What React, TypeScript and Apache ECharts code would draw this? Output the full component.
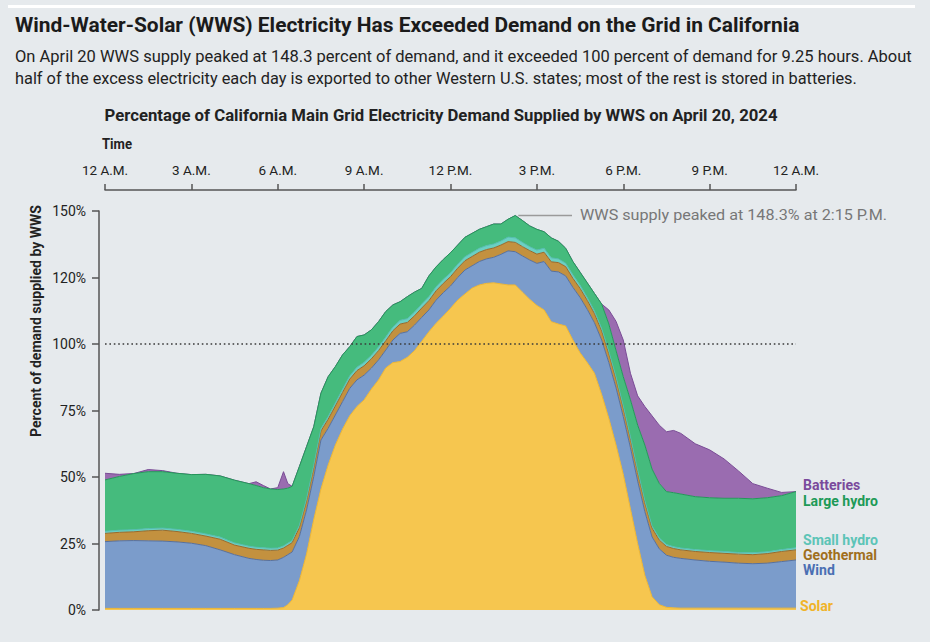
import React, { useEffect, useRef } from 'react';
import * as echarts from 'echarts';

// ---------- DATA (percent of demand) ----------
const hours = [
  0, 0.5, 1, 1.5, 2, 2.5, 3, 3.5, 4, 4.5, 5,
  5.25, 5.5, 5.75, 6, 6.2, 6.35, 6.5,
  6.75, 7, 7.25, 7.5, 7.75, 8, 8.25, 8.5, 8.75, 9, 9.25, 9.5, 9.75,
  10, 10.25, 10.5, 10.75, 11, 11.25, 11.5, 11.75, 12, 12.25, 12.5, 12.75,
  13, 13.25, 13.5, 13.75, 14, 14.25, 14.5, 14.75, 15, 15.25, 15.5, 15.75,
  16, 16.25, 16.5, 16.75, 17, 17.25, 17.5, 17.75, 18, 18.25, 18.5, 18.75,
  19, 19.25, 19.5, 19.75, 20, 20.5, 21, 21.5, 22, 22.5, 23, 23.5, 24,
];

const solar = [
  0.6, 0.6, 0.6, 0.6, 0.6, 0.6, 0.6, 0.6, 0.6, 0.6, 0.6,
  0.6, 0.6, 0.6, 0.7, 0.9, 2.0, 3.8,
  11.0, 21.0, 34.0, 45.5, 54.5, 62.0, 68.0, 73.0, 76.5, 79.0, 83.0, 86.5, 91.0,
  93.0, 93.4, 95.0, 97.5, 101.0, 104.6, 107.8, 110.5, 113.4, 116.5, 118.8, 121.0,
  122.2, 122.8, 123.0, 122.6, 122.2, 122.2, 119.5, 116.8, 114.5, 112.8, 108.4, 107.5,
  106.8, 101.5, 96.7, 93.0, 89.0, 81.0, 72.0, 62.0, 51.0, 38.0, 25.0, 13.0,
  5.0, 2.0, 1.0, 0.8, 0.7, 0.7, 0.7, 0.7, 0.7, 0.7, 0.7, 0.7, 0.7,
];

const wind = [
  25.1, 25.4, 25.5, 25.4, 25.3, 25.0, 24.5, 23.6, 22.0, 20.2, 18.8,
  18.4, 18.1, 18.0, 18.1, 18.9, 18.8, 18.0,
  16.6, 16.6, 16.1, 18.4, 13.8, 11.3, 10.3, 10.3, 10.0, 9.3, 7.9, 7.5, 6.7,
  8.5, 10.6, 9.6, 9.6, 9.0, 8.2, 8.7, 8.8, 8.4, 8.5, 9.0, 8.4,
  8.8, 9.2, 9.6, 11.1, 12.8, 12.5, 13.6, 14.8, 15.8, 18.2, 19.0, 19.6,
  18.8, 19.8, 20.8, 20.0, 19.0, 20.5, 21.0, 21.5, 21.7, 23.0, 23.5, 24.0,
  22.5, 21.0, 19.6, 19.0, 18.7, 18.1, 17.6, 17.3, 16.9, 16.7, 16.9, 17.5, 18.1,
];

const geothermal = [
  3.1, 3.2, 3.3, 3.8, 4.1, 3.9, 3.7, 3.6, 4.0, 3.6, 3.8,
  3.8, 3.9, 3.8, 3.7, 3.5, 3.5, 3.5,
  3.4, 3.4, 3.4, 3.4, 3.4, 3.4, 3.5, 3.5, 3.5, 3.5, 3.5, 3.5, 3.5,
  3.5, 3.5, 3.5, 3.5, 3.5, 3.5, 3.5, 3.5, 3.5, 3.5, 3.5, 3.5,
  3.5, 3.5, 3.5, 3.5, 3.5, 3.5, 3.5, 3.5, 3.5, 3.5, 3.5, 3.5,
  3.5, 3.4, 3.4, 3.4, 3.4, 3.4, 3.3, 3.3, 3.3, 3.3, 3.3, 3.3,
  3.3, 3.3, 3.3, 3.3, 3.2, 3.2, 3.3, 3.3, 3.4, 3.4, 3.6, 3.8, 3.8,
];

const smallHydro = [
  0.8, 0.8, 0.8, 0.8, 0.8, 0.8, 0.8, 0.8, 0.8, 0.8, 0.8,
  0.8, 0.8, 0.8, 0.8, 0.8, 0.8, 0.8,
  0.8, 0.8, 0.9, 0.9, 1.0, 1.1, 1.2, 1.2, 1.3, 1.3, 1.3, 1.4, 1.4,
  1.4, 1.4, 1.4, 1.4, 1.5, 1.5, 1.5, 1.5, 1.5, 1.5, 1.5, 1.5,
  1.5, 1.5, 1.5, 1.5, 1.7, 1.7, 1.6, 1.5, 1.5, 1.5, 1.5, 1.4,
  1.3, 1.3, 1.2, 1.1, 1.0, 0.9, 0.9, 0.8, 0.8, 0.8, 0.8, 0.8,
  0.8, 0.8, 0.7, 0.7, 0.7, 0.7, 0.7, 0.7, 0.6, 0.7, 0.7, 0.7, 0.8,
];

const largeHydro = [
  19.3, 20.2, 21.1, 21.4, 21.2, 21.1, 21.3, 22.4, 23.0, 23.6, 23.5,
  23.2, 22.6, 22.3, 22.0, 21.4, 20.7, 20.4,
  22.1, 19.6, 14.5, 13.3, 15.0, 13.7, 12.9, 11.0, 11.5, 10.3, 9.6, 9.5, 9.6,
  8.3, 7.0, 8.3, 7.5, 5.9, 7.8, 7.5, 7.5, 7.5, 7.2, 7.3, 7.2,
  7.1, 7.1, 7.5, 6.4, 6.7, 8.4, 8.2, 7.8, 7.8, 6.2, 7.5, 6.6,
  5.6, 5.0, 4.9, 5.5, 6.6, 9.2, 10.3, 9.9, 10.9, 13.9, 16.9, 20.9,
  21.4, 20.5, 19.9, 20.3, 20.3, 19.9, 19.9, 20.0, 20.4, 20.3, 20.3, 20.3, 21.1,
];

const batteries = [
  2.5, 0.8, 0, 0.8, 0.4, 0, 0, 0, 0, 0, 0,
  1.4, 0.8, 0, 0.7, 6.5, 1.7, 0,
  0, 0, 0, 0, 0, 0, 0, 0, 0, 0, 0, 0, 0,
  0, 0, 0, 0, 0, 0, 0, 0, 0, 0, 0, 0,
  0, 0, 0, 0, 0, 0, 0, 0, 0, 0, 0, 0,
  0, 0, 0, 0, 0, 0, 5.3, 11.0, 13.8, 10.0, 11.0, 14.5,
  20.0, 21.9, 22.5, 23.4, 22.8, 19.9, 18.0, 14.8, 10.3, 5.7, 3.6, 1.2, 0,
];

const seriesNames = ['Solar', 'Wind', 'Geothermal', 'Small hydro', 'Large hydro', 'Batteries'];
const xTickLabels = ['12 A.M.', '3 A.M.', '6 A.M.', '9 A.M.', '12 P.M.', '3 P.M.', '6 P.M.', '9 P.M.', '12 A.M.'];
const yTickLabels = ['0%', '25%', '50%', '75%', '100%', '120%', '150%'];
const thresholdValue = 100;
const peakHour = 14.25;
const peakValue = 148.3;

const titleText = 'Wind-Water-Solar (WWS) Electricity Has Exceeded Demand on the Grid in California';
const subtitleLines = [
  'On April 20 WWS supply peaked at 148.3 percent of demand, and it exceeded 100 percent of demand for 9.25 hours. About',
  'half of the excess electricity each day is exported to other Western U.S. states; most of the rest is stored in batteries.',
];
const chartTitleText = 'Percentage of California Main Grid Electricity Demand Supplied by WWS on April 20, 2024';
const xAxisTitle = 'Time';
const yAxisTitle = 'Percent of demand supplied by WWS';
const annotationText = 'WWS supply peaked at 148.3% at 2:15 P.M.';

// ---------- STYLE ----------
const BG = '#e6eaed';
const FONT = 'Roboto, "Noto Sans", sans-serif';
const layerStyles = [
  { fill: '#f6c64f', line: '#efb631', label: '#f0b42a' },
  { fill: '#7b9ccb', line: '#56709f', label: '#4b6fb3' },
  { fill: '#c3913f', line: '#98692a', label: '#a06f1c' },
  { fill: '#6bd0c3', line: '#54bdb0', label: '#5cc4b7' },
  { fill: '#45bb7d', line: '#25965a', label: '#1e9a58' },
  { fill: '#9a6cb0', line: '#7a4c96', label: '#7a4a9c' },
];
const layerData = [solar, wind, geothermal, smallHydro, largeHydro, batteries];

function measure(text: string, font: string): number {
  const ctx = document.createElement('canvas').getContext('2d');
  if (!ctx) return 1;
  ctx.font = font;
  return ctx.measureText(text).width || 1;
}

function textEl(
  text: string,
  x: number,
  y: number,
  size: number,
  weight: string,
  color: string,
  scaleX: number,
  align: string = 'left',
  rotation: number = 0,
) {
  return {
    type: 'text',
    x,
    y,
    rotation,
    scaleX,
    silent: true,
    style: {
      text,
      fontSize: size,
      fontWeight: weight,
      fontFamily: FONT,
      fill: color,
      align,
      verticalAlign: 'middle',
    },
  };
}

function fitText(
  text: string,
  x: number,
  y: number,
  size: number,
  weight: string,
  color: string,
  width: number,
  align: string = 'left',
  rotation: number = 0,
) {
  const w = measure(text, `${weight} ${size}px Roboto`);
  return textEl(text, x, y, size, weight, color, width / w, align, rotation);
}

export default function App() {
  const ref = useRef<HTMLDivElement>(null);

  useEffect(() => {
    document.body.style.margin = '0';
    document.body.style.background = BG;
    const chart = echarts.init(ref.current as HTMLDivElement, null, { renderer: 'svg' });

    // value first (column 0 -> y, stacked), hour second (column 1 -> x)
    const series: any[] = seriesNames.map((name, i) => ({
      name,
      type: 'line',
      stack: 'wws',
      data: hours.map((h, j) => [layerData[i][j], h]),
      encode: { x: 1, y: 0 },
      symbol: 'none',
      showSymbol: false,
      smooth: false,
      silent: true,
      z: name === 'Batteries' ? 1 : 2,
      lineStyle: { color: layerStyles[i].line, width: 1 },
      areaStyle: { color: layerStyles[i].fill, opacity: 1 },
      emphasis: { disabled: true },
    }));
    series.push({
      name: 'threshold',
      type: 'line',
      data: [
        [0, thresholdValue],
        [24, thresholdValue],
      ],
      symbol: 'none',
      silent: true,
      z: 5,
      lineStyle: { color: '#3a3a3a', width: 1.6, type: [1.6, 2.8] },
    });

    chart.setOption({
      animation: false,
      backgroundColor: BG,
      textStyle: { fontFamily: FONT },
      grid: { left: 105, right: 134, top: 211, bottom: 32, containLabel: false },
      xAxis: {
        type: 'value',
        position: 'top',
        min: 0,
        max: 24,
        interval: 3,
        offset: 21,
        axisLine: { show: true, onZero: false, lineStyle: { color: '#555', width: 1.5 } },
        axisTick: { show: true, length: 6, lineStyle: { color: '#555', width: 1.5 } },
        axisLabel: {
          formatter: (v: number) => xTickLabels[Math.round(v / 3)] ?? '',
          color: '#222',
          fontSize: 13.5,
          fontFamily: FONT,
          margin: 13,
        },
        splitLine: { show: false },
      },
      yAxis: {
        type: 'value',
        min: 0,
        max: 150,
        interval: 25,
        offset: 6,
        axisLine: { show: true, onZero: false, lineStyle: { color: '#555', width: 1.5 } },
        axisTick: { show: true, length: 7, lineStyle: { color: '#555', width: 1.5 } },
        axisLabel: {
          formatter: (v: number) => yTickLabels[Math.round(v / 25)] ?? '',
          color: '#222',
          fontSize: 14,
          fontFamily: FONT,
          margin: 13,
        },
        splitLine: { show: false },
      },
      series,
    });

    const [px, py] = chart.convertToPixel({ xAxisIndex: 0, yAxisIndex: 0 }, [peakHour, peakValue]) as number[];

    const legendPos = [606, 570, 555, 540, 501, 485];
    const legendScale = 74 / measure('Geothermal', 'bold 15px Roboto');

    const graphic: any[] = [
      { type: 'rect', shape: { x: 8, y: 5, width: 907, height: 3 }, style: { fill: '#ffffff' }, silent: true },
      fitText(titleText, 15, 25, 20, 'bold', '#1b1b1b', 785),
      fitText(subtitleLines[0], 15, 57, 16, 'normal', '#222', 897),
      fitText(subtitleLines[1], 15, 79, 16, 'normal', '#222', 843),
      fitText(chartTitleText, 441, 116, 16, 'bold', '#222', 673, 'center'),
      fitText(xAxisTitle, 102, 144, 14, 'bold', '#222', 30),
      fitText(yAxisTitle, 36, 321, 14.5, 'bold', '#222', 232, 'center', Math.PI / 2),
      {
        type: 'line',
        silent: true,
        shape: { x1: px + 3, y1: py, x2: 572, y2: py },
        style: { stroke: '#9a9a9a', lineWidth: 1.5 },
      },
      fitText(annotationText, 580, py, 15, 'normal', '#777', 307),
    ];
    seriesNames.forEach((name, i) => {
      graphic.push(textEl(name, i === 0 ? 800 : 803, legendPos[i], 15, 'bold', layerStyles[i].label, legendScale));
    });

    chart.setOption({ graphic });

    return () => chart.dispose();
  }, []);

  return <div ref={ref} style={{ width: 930, height: 642 }} />;
}
